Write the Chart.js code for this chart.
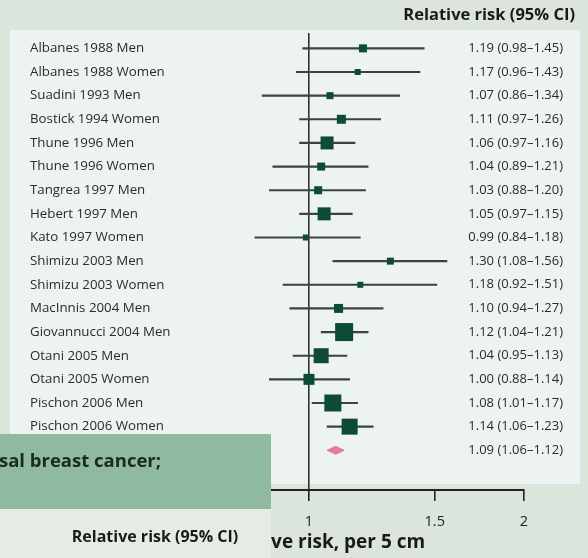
<!DOCTYPE html>
<html>
<head>
<meta charset="utf-8">
<title>Relative risk per 5 cm</title>
<script src="https://cdn.jsdelivr.net/npm/chart.js@4.4.1/dist/chart.umd.min.js"></script>
<style>
  html, body { margin: 0; padding: 0; background: #dbe5dc; }
  canvas { display: block; }
</style>
</head>
<body>
<canvas id="forest" width="588" height="558"></canvas>
<script>
// Study rows, top to bottom
const studies = [
  'Albanes 1988 Men', 'Albanes 1988 Women', 'Suadini 1993 Men', 'Bostick 1994 Women',
  'Thune 1996 Men', 'Thune 1996 Women', 'Tangrea 1997 Men', 'Hebert 1997 Men',
  'Kato 1997 Women', 'Shimizu 2003 Men', 'Shimizu 2003 Women', 'MacInnis 2004 Men',
  'Giovannucci 2004 Men', 'Otani 2005 Men', 'Otani 2005 Women', 'Pischon 2006 Men',
  'Pischon 2006 Women'
];
// Relative risk and 95% CI bounds per study
const relRisk = [1.19, 1.17, 1.07, 1.11, 1.06, 1.04, 1.03, 1.05, 0.99, 1.30, 1.18, 1.10, 1.12, 1.04, 1.00, 1.08, 1.14];
const ciLow   = [0.98, 0.96, 0.86, 0.97, 0.97, 0.89, 0.88, 0.97, 0.84, 1.08, 0.92, 0.94, 1.04, 0.95, 0.88, 1.01, 1.06];
const ciHigh  = [1.45, 1.43, 1.34, 1.26, 1.16, 1.21, 1.20, 1.15, 1.18, 1.56, 1.51, 1.27, 1.21, 1.13, 1.14, 1.17, 1.23];
// Pooled estimate
const pooledRR = 1.09;
const pooledLow = 1.06;
const pooledHigh = 1.12;
// Axis ticks and range (log scale)
const xTicks = [1, 1.5, 2];
const xMin = 0.741;
const xMax = 2;

// Styling: square side (px) per study, reflecting study weight
const boxSide = [8, 6, 7, 9, 13, 8, 8, 13, 6, 7, 6, 9, 18, 15, 11, 17, 16];
const diamondHalf = 0.17; // half height of pooled diamond, in row units

const FONT = '"Open Sans", "Noto Sans", sans-serif';
const pooledRow = studies.length;
const fmt = (v, lo, hi) => `${v.toFixed(2)} (${lo.toFixed(2)}\u2013${hi.toFixed(2)})`;

const panels = {
  id: 'panels',
  beforeDraw(chart) {
    const c = chart.ctx;
    c.save();
    c.fillStyle = '#dbe5dc';
    c.fillRect(0, 0, chart.width, chart.height);
    c.fillStyle = '#edf2f3';
    c.fillRect(10, 30, 570, 454);
    c.restore();
  },
  afterDraw(chart) {
    const c = chart.ctx;
    const y = chart.scales.y;
    c.save();
    // values column
    c.fillStyle = '#2b2b2b';
    c.font = `13px ${FONT}`;
    c.textAlign = 'right';
    c.textBaseline = 'middle';
    relRisk.forEach((v, i) => c.fillText(fmt(v, ciLow[i], ciHigh[i]), 563, y.getPixelForValue(i)));
    c.fillText(fmt(pooledRR, pooledLow, pooledHigh), 563, y.getPixelForValue(pooledRow));
    // column header
    c.fillStyle = '#1a1a1a';
    c.font = `bold 16.5px ${FONT}`;
    c.fillText('Relative risk (95% CI)', 575, 15);
    // caption panel, lower left
    c.fillStyle = '#e5ece5';
    c.fillRect(0, 509, 271, 49);
    c.fillStyle = '#90b9a2';
    c.fillRect(0, 434, 271, 75);
    c.fillStyle = '#1b2a23';
    c.font = `bold 18.5px ${FONT}`;
    c.textAlign = 'left';
    c.fillText('sal breast cancer;', -1, 462);
    c.fillStyle = '#1a1a1a';
    c.font = `bold 16px ${FONT}`;
    c.textAlign = 'center';
    c.fillText('Relative risk (95% CI)', 155, 537);
    c.restore();
  }
};

new Chart(document.getElementById('forest'), {
  type: 'scatter',
  data: {
    datasets: [
      {
        label: 'Relative risk',
        data: relRisk.map((v, i) => ({ x: v, y: i })),
        pointStyle: 'rect',
        pointRadius: boxSide.map(s => s / Math.SQRT2),
        pointHoverRadius: boxSide.map(s => s / Math.SQRT2),
        backgroundColor: '#0e4b37',
        borderWidth: 0,
        order: 0
      },
      {
        label: 'Pooled',
        data: [
          { x: pooledLow, y: pooledRow },
          { x: pooledRR, y: pooledRow - diamondHalf },
          { x: pooledHigh, y: pooledRow },
          { x: pooledRR, y: pooledRow + diamondHalf },
          { x: pooledLow, y: pooledRow }
        ],
        showLine: true,
        fill: 'shape',
        tension: 0,
        pointRadius: 0,
        borderColor: '#e27ca1',
        backgroundColor: '#e27ca1',
        borderWidth: 1,
        order: 1
      },
      {
        type: 'bar',
        label: '95% CI',
        indexAxis: 'y',
        data: ciLow.map((lo, i) => ({ x: [lo, ciHigh[i]], y: i })),
        barThickness: 1.5,
        backgroundColor: '#3a433f',
        borderWidth: 0,
        order: 2
      }
    ]
  },
  options: {
    responsive: false,
    animation: false,
    devicePixelRatio: 1,
    layout: { padding: { left: 30, right: 64, top: 33, bottom: 0 } },
    plugins: {
      legend: { display: false },
      tooltip: { enabled: false },
      title: { display: false }
    },
    scales: {
      x: {
        type: 'logarithmic',
        min: xMin,
        max: xMax,
        bounds: 'data',
        afterBuildTicks: s => {
          s.min = xMin;
          s.max = xMax;
          s.ticks = xTicks.map(v => ({ value: v }));
        },
        afterFit: s => { s.height = 68; },
        ticks: {
          autoSkip: false,
          maxRotation: 0,
          padding: 12,
          color: '#222',
          font: { family: FONT, size: 14.5 },
          callback: v => String(v)
        },
        grid: {
          color: c => (c.tick && c.tick.value === 1 ? '#2d3330' : 'rgba(0,0,0,0)'),
          lineWidth: 1.6,
          tickColor: '#1f2421',
          tickLength: 11,
          tickWidth: 1.6
        },
        border: { display: true, color: '#1f2421', width: 2 },
        title: {
          display: true,
          text: 'Relative risk, per 5 cm',
          align: 'start',
          color: '#1a1a1a',
          font: { family: FONT, size: 19, weight: 'bold' },
          padding: { top: 0, bottom: 4 }
        }
      },
      y: {
        type: 'linear',
        reverse: true,
        min: -0.65,
        max: 18.68,
        offset: false,
        afterBuildTicks: s => { s.ticks = studies.map((_, i) => ({ value: i })); },
        afterFit: s => { s.width = 186; },
        ticks: {
          autoSkip: false,
          crossAlign: 'far',
          padding: 0,
          color: '#2b2b2b',
          font: { family: FONT, size: 13.3 },
          callback: v => studies[v]
        },
        grid: { display: false, drawTicks: false },
        border: { display: false }
      }
    }
  },
  plugins: [panels]
});
</script>
</body>
</html>
